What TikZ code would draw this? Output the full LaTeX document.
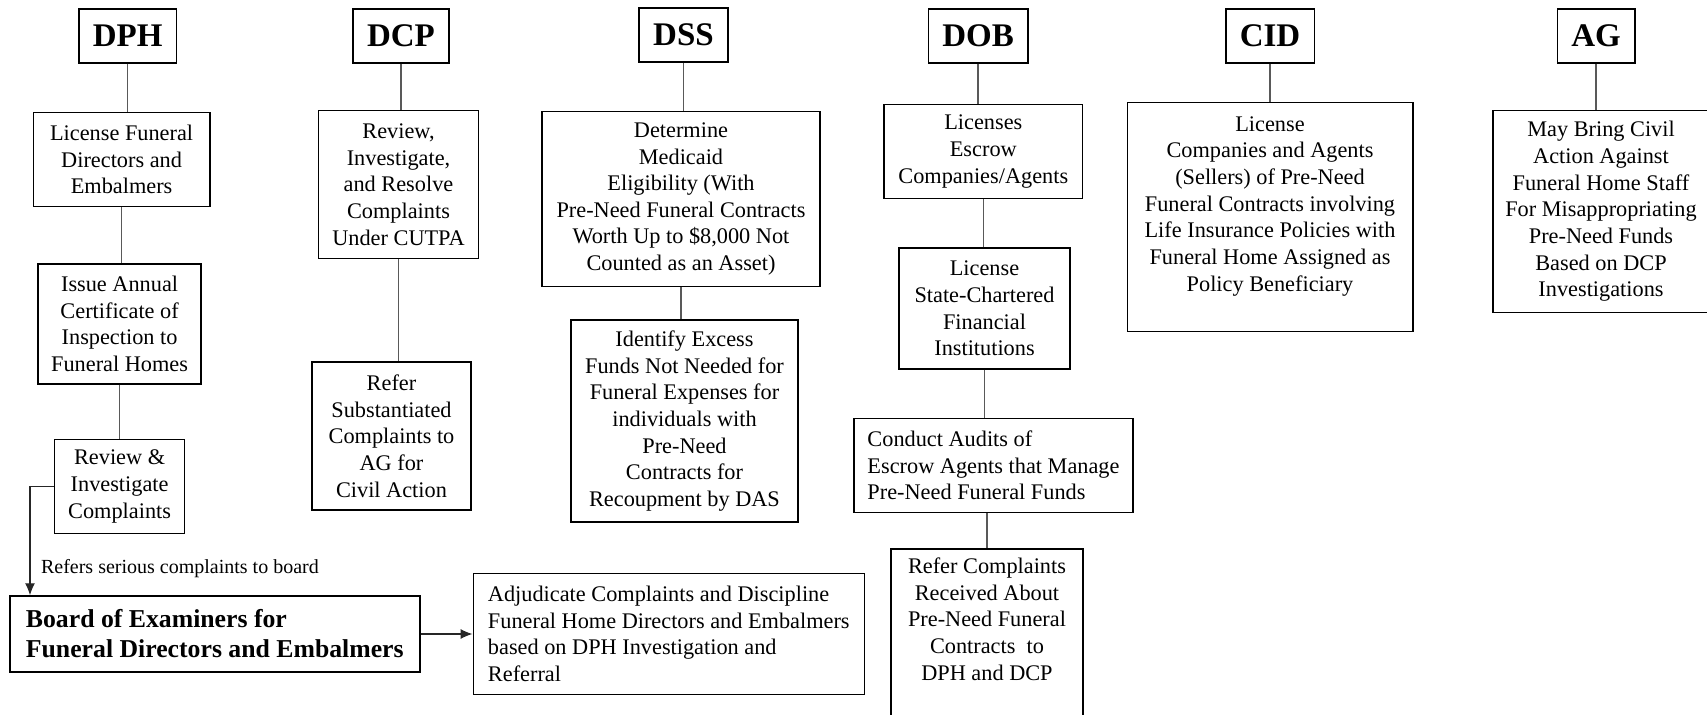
\documentclass[tikz,border=0pt]{standalone}
\usepackage{fontspec}
\setmainfont{Liberation Serif}
\usetikzlibrary{arrows.meta,positioning}

\begin{document}
\begin{tikzpicture}
[x=1pt, y=-1pt,
% STYLES
% The agency style is used for the bold names on top of each column
agency/.style={rectangle, draw, line width=0.75pt, inner xsep=7pt, minimum height=27pt, font=\fontsize{16.5}{19}\selectfont\bfseries},
% The duty style is used for the boxes that describe what each agency does
duty/.style={rectangle, draw, line width=0.75pt, align=center, font=\fontsize{11.15}{13.33}\selectfont},
% The board style is the bold box of the examiners
board/.style={duty, align=left, font=\fontsize{12.87}{15}\selectfont\bfseries},
note/.style={font=\fontsize{10}{12}\selectfont},
link/.style={draw, black!65, line width=0.6pt},
arrow/.style={draw, black!85, line width=0.6pt, -{Latex[length=6pt,width=5pt]}}]

\useasboundingbox (0,0) rectangle (853.5,357.5);

% Draw agencies
\node [agency] (dph) at (63.8,18) {DPH};
\node [agency] (dcp) at (200.5,18) {DCP};
\node [agency] (dss) at (341.75,17.5) {DSS};
\node [agency] (dob) at (489,18) {DOB};
\node [agency] (cid) at (635,18) {CID};
\node [agency] (ag) at (798,18) {AG};

%%%%%%%%%%%%%%%
% DPH
\node [duty, below=24pt of dph, xshift=-3pt, minimum width=88.25pt, minimum height=47pt] (lfd)
{License Funeral\\ Directors and\\ Embalmers};
\node [duty, below=28pt of lfd, xshift=-1pt, minimum width=81.5pt, minimum height=60pt] (cert)
{Issue Annual\\ Certificate of\\ Inspection to\\ Funeral Homes};
\node [duty, below=27pt of cert, minimum width=65pt, minimum height=47pt] (revinv)
{Review \&\\ Investigate\\ Complaints};

% Board
\node [board, minimum width=205pt, minimum height=38pt] (board) at (107.4,317)
{Board of Examiners for\\ Funeral Directors and Embalmers};
\node [duty, align=left, right=26pt of board, minimum width=195.5pt, minimum height=60.5pt] (adjud)
{Adjudicate Complaints and Discipline\\ Funeral Home Directors and Embalmers\\ based on DPH Investigation and\\ Referral};
\node [note, anchor=west] (refers) at (17,284.5) {Refers serious complaints to board};

% DCP
\node [duty, below=23pt of dcp, xshift=-1.25pt, minimum width=80pt, minimum height=74pt] (cutpa)
{Review,\\ Investigate,\\ and Resolve\\ Complaints\\ Under CUTPA};
\node [duty, below=51pt of cutpa, xshift=-3.5pt, minimum width=79.5pt, minimum height=74pt] (refag)
{Refer\\ Substantiated\\ Complaints to\\ AG for\\ Civil Action};

% DSS
\node [duty, below=24pt of dss, xshift=-1.25pt, minimum width=139pt, minimum height=87.5pt] (medicaid)
{Determine\\ Medicaid\\ Eligibility (With\\ Pre-Need Funeral Contracts\\ Worth Up to \$8,000 Not\\ Counted as an Asset)};
\node [duty, below=16pt of medicaid, xshift=1.75pt, minimum width=113.5pt, minimum height=101pt] (excess)
{Identify Excess\\ Funds Not Needed for\\ Funeral Expenses for\\ individuals with\\ Pre-Need\\ Contracts for\\ Recoupment by DAS};

% DOB
\node [duty, below=20pt of dob, xshift=2.65pt, minimum width=99.3pt, minimum height=47pt] (escrow)
{Licenses\\ Escrow\\ Companies/Agents};
\node [duty, below=24pt of escrow, xshift=0.6pt, minimum width=85.5pt, minimum height=60.5pt] (banks)
{License\\ State-Chartered\\ Financial\\ Institutions};
\node [duty, align=left, below=24pt of banks, xshift=4.5pt, minimum width=139.5pt, minimum height=47pt] (audits)
{Conduct Audits of\\ Escrow Agents that Manage\\ Pre-Need Funeral Funds};
\node [duty, below=17.5pt of audits, xshift=-3.25pt, minimum width=96pt, minimum height=110pt] (refcomp)
{Refer Complaints\\ Received About\\ Pre-Need Funeral\\ Contracts~ to\\ DPH and DCP\\ \mbox{}\\ \mbox{}\\ \mbox{}};

% CID
\node [duty, below=19pt of cid, minimum width=142.75pt, minimum height=114.5pt] (insur)
{License\\ Companies and Agents\\ (Sellers) of Pre-Need\\ Funeral Contracts involving\\ Life Insurance Policies with\\ Funeral Home Assigned as\\ Policy Beneficiary\\ \mbox{}};

% AG
\node [duty, below=23pt of ag, xshift=2.5pt, minimum width=108pt, minimum height=101pt] (civil)
{May Bring Civil\\ Action Against\\ Funeral Home Staff\\ For Misappropriating\\ Pre-Need Funds\\ Based on DCP\\ Investigations};

%%%%%%%%%%%%%%%
% Draw the links
\path[link]
(dph) edge (dph |- lfd.north)
(lfd) edge (lfd |- cert.north)
(cert) edge (cert |- revinv.north)
(dcp) edge (dcp |- cutpa.north)
(cutpa) edge (cutpa |- refag.north)
(dss) edge (dss |- medicaid.north)
(medicaid) edge (medicaid |- excess.north)
(dob) edge (dob |- escrow.north)
(escrow) edge (escrow |- banks.north)
(banks) edge (banks |- audits.north)
(refcomp.north |- audits.south) edge (refcomp.north)
(cid) edge (cid |- insur.north)
(ag) edge (ag |- civil.north);

% Referral arrows
\coordinate (bend) at (15,0);
\draw[arrow] (revinv.west) -| (bend |- board.north);
\draw[arrow] (board) -- (adjud);

\end{tikzpicture}
\end{document}
